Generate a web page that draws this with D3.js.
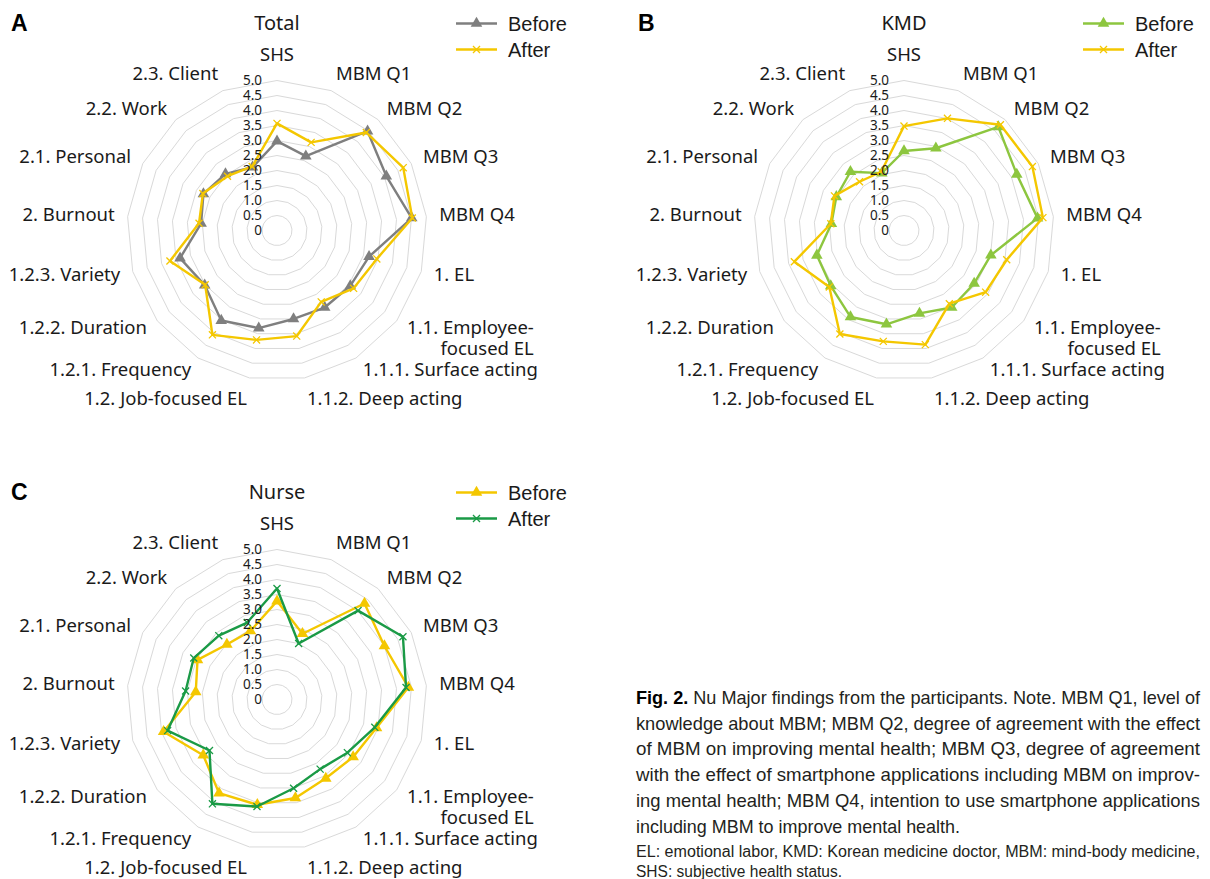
<!DOCTYPE html>
<html>
<head>
<meta charset="utf-8">
<script src="https://cdn.jsdelivr.net/npm/d3@7"></script>
<style>
  body { margin: 0; background: #fff; }
  svg text { font-family: "Noto Sans", sans-serif; fill: #1a1a1a; }
</style>
</head>
<body>
<svg id="fig" width="1210" height="879"></svg>
<script>
// axes of every radar, clockwise from the top
var categories = ["SHS", "MBM Q1", "MBM Q2", "MBM Q3", "MBM Q4", "1. EL",
    "1.1. Employee-focused EL", "1.1.1. Surface acting", "1.1.2. Deep acting",
    "1.2. Job-focused EL", "1.2.1. Frequency", "1.2.2. Duration", "1.2.3. Variety",
    "2. Burnout", "2.1. Personal", "2.2. Work", "2.3. Client"];
var tickLabels = ["0", "0.5", "1.0", "1.5", "2.0", "2.5", "3.0", "3.5", "4.0", "4.5", "5.0"];
var seriesNames = ["Before", "After"];

// values
var totalBefore = [2.98, 2.66, 4.48, 4.07, 4.51, 3.19, 3.06, 3.02, 3.00, 3.31, 3.53, 3.02, 3.36, 2.54, 2.74, 2.55, 2.26];
var totalAfter  = [3.57, 3.15, 4.42, 4.70, 4.53, 3.46, 3.20, 2.80, 3.58, 3.71, 4.09, 3.00, 3.71, 2.61, 2.76, 2.45, 2.29];
var kmdBefore   = [2.65, 2.94, 4.67, 4.20, 4.47, 3.01, 2.93, 3.02, 2.81, 3.18, 3.39, 3.06, 3.02, 2.43, 2.52, 2.65, 2.05];
var kmdAfter    = [3.48, 4.01, 4.77, 4.78, 4.65, 3.56, 3.41, 2.87, 3.87, 3.76, 4.06, 3.12, 3.80, 2.45, 2.59, 2.20, 2.10];
var nurseBefore = [3.28, 2.35, 4.33, 4.00, 4.40, 3.45, 3.18, 3.09, 3.34, 3.57, 3.67, 3.08, 3.93, 2.72, 2.96, 2.48, 2.45];
var nurseAfter  = [3.70, 2.00, 4.01, 4.69, 4.32, 3.39, 2.94, 2.73, 3.01, 3.63, 4.09, 2.82, 3.79, 3.06, 3.10, 2.88, 2.75];

var captionLines = [
    " Nu Major findings from the participants. Note. MBM Q1, level of",
    "knowledge about MBM; MBM Q2, degree of agreement with the effect",
    "of MBM on improving mental health; MBM Q3, degree of agreement",
    "with the effect of smartphone applications including MBM on improv-",
    "ing mental health; MBM Q4, intention to use smartphone applications",
    "including MBM to improve mental health."];
var noteLines = [
    "EL: emotional labor, KMD: Korean medicine doctor, MBM: mind-body medicine,",
    "SHS: subjective health status."];

var gray = "#7f7f7f", gold = "#f4c700", lime = "#8dc63f", green = "#1a9a46";

var panels = [
    {letter: "A", title: "Total", values: [totalBefore, totalAfter], colors: [gray, gold], cx: 277, cy: 230.5},
    {letter: "B", title: "KMD", values: [kmdBefore, kmdAfter], colors: [lime, gold], cx: 904, cy: 230.5},
    {letter: "C", title: "Nurse", values: [nurseBefore, nurseAfter], colors: [gold, green], cx: 277, cy: 699.5}
];

var svg = d3.select("#fig");
var R = 150, labelR = 163;

var r = d3.scaleLinear().domain([0, 5]).range([0, R]);
var angle = d3.scaleLinear().domain([0, categories.length]).range([0, 2 * Math.PI]);

var radial = d3.lineRadial()
    .angle(function(d, i) { return angle(i); })
    .radius(function(d) { return r(d); })
    .curve(d3.curveLinearClosed);

var symbols = [d3.symbol(d3.symbolTriangle, 58), d3.symbol(d3.symbolTimes, 34)];

function styleMarker(sel, k, color) {
    if (k === 0) sel.attr("fill", color).attr("stroke", "none");
    else sel.attr("fill", "none").attr("stroke", color).attr("stroke-width", 1.3);
}

function point(i, v) {
    var a = angle(i);
    return [r(v) * Math.sin(a), -r(v) * Math.cos(a)];
}

panels.forEach(function(p) {
    var g = svg.append("g")
        .attr("transform", "translate(" + p.cx + "," + p.cy + ")");

    // rings
    g.selectAll(".ring")
        .data(tickLabels.slice(1).map(Number))
        .enter().append("path")
        .attr("class", "ring")
        .attr("d", function(v) { return radial(categories.map(function() { return v; })); })
        .attr("fill", "none")
        .attr("stroke", "#d9d9d9")
        .attr("stroke-width", 1);

    // series
    p.values.forEach(function(vals, k) {
        g.append("path")
            .attr("d", radial(vals))
            .attr("fill", "none")
            .attr("stroke", p.colors[k])
            .attr("stroke-width", 2.4)
            .attr("stroke-linejoin", "round");

        g.selectAll(".m" + k)
            .data(vals)
            .enter().append("path")
            .attr("class", "m" + k)
            .attr("d", symbols[k])
            .attr("transform", function(v, i) { return "translate(" + point(i, v) + ")"; })
            .call(styleMarker, k, p.colors[k]);
    });

    // tick labels on top of the lines
    g.selectAll(".tick")
        .data(tickLabels)
        .enter().append("text")
        .attr("class", "tick")
        .attr("x", -15)
        .attr("y", function(d) { return -r(+d); })
        .attr("dy", "0.35em")
        .attr("text-anchor", "end")
        .style("font-size", "13.5px")
        .text(function(d) { return d; });

    // category labels
    g.selectAll(".cat")
        .data(categories)
        .enter().append("text")
        .attr("class", "cat")
        .style("font-size", "18.5px")
        .each(function(d, i) {
            var a = angle(i), s = Math.sin(a), c = -Math.cos(a);
            var x = labelR * s, y = labelR * c + 12 * Math.pow(c, 15) - 1;
            var anchor = s > 0.1 ? "start" : s < -0.1 ? "end" : "middle";
            var lines = d.split(/(?<=Employee-)/);
            var t = d3.select(this);
            var first = t.append("tspan")
                .attr("x", x).attr("y", y).attr("dy", "0.35em")
                .attr("text-anchor", anchor)
                .text(lines[0]);
            if (lines.length > 1) {
                var w = first.node().getComputedTextLength();
                t.append("tspan")
                    .attr("x", x + w).attr("y", y + 21).attr("dy", "0.35em")
                    .attr("text-anchor", "end")
                    .text(lines[1]);
            }
        });

    // title and panel letter
    g.append("text")
        .attr("x", 0).attr("y", -208).attr("dy", "0.35em")
        .attr("text-anchor", "middle")
        .style("font-size", "20px")
        .text(p.title);

    g.append("text")
        .attr("x", -266).attr("y", -208).attr("dy", "0.35em")
        .style("font-family", "'Liberation Sans', Arial, sans-serif")
        .style("font-weight", "bold")
        .style("font-size", "23px")
        .style("fill", "#000")
        .text(p.letter);

    // legend
    var leg = g.selectAll(".leg")
        .data(seriesNames)
        .enter().append("g")
        .attr("class", "leg")
        .attr("transform", function(d, k) { return "translate(179," + (-207 + k * 26) + ")"; });

    leg.append("line")
        .attr("x1", 0).attr("x2", 41)
        .attr("stroke", function(d, k) { return p.colors[k]; })
        .attr("stroke-width", 2.4);

    leg.append("path")
        .attr("transform", "translate(20.5,0)")
        .attr("d", function(d, k) { return symbols[k](); })
        .each(function(d, k) { d3.select(this).call(styleMarker, k, p.colors[k]); });

    leg.append("text")
        .attr("x", 52).attr("dy", "0.35em")
        .style("font-family", "'Liberation Sans', Arial, sans-serif")
        .style("font-size", "20px")
        .text(function(d) { return d; });
});

// caption, justified like the printed figure
var capFont = "'Liberation Sans Narrow', 'Liberation Sans', Arial, sans-serif";
var cap = svg.append("g").attr("transform", "translate(636,0)");

captionLines.forEach(function(line, i) {
    var t = cap.append("text")
        .attr("x", 0)
        .attr("y", 704 + i * 25.7)
        .attr("textLength", i < captionLines.length - 1 ? 564 : 324)
        .attr("lengthAdjust", "spacingAndGlyphs")
        .style("font-family", capFont)
        .style("font-size", "18.5px")
        .style("fill", "#231f20");
    if (i === 0) t.append("tspan").style("font-weight", "bold").style("fill", "#000").text("Fig. 2.");
    t.append("tspan").text(line);
});

noteLines.forEach(function(line, i) {
    cap.append("text")
        .attr("x", 0)
        .attr("y", 856.5 + i * 20)
        .attr("textLength", i === 0 ? 564 : 206)
        .attr("lengthAdjust", "spacingAndGlyphs")
        .style("font-family", capFont)
        .style("font-size", "16px")
        .style("fill", "#231f20")
        .text(line);
});
</script>
</body>
</html>
